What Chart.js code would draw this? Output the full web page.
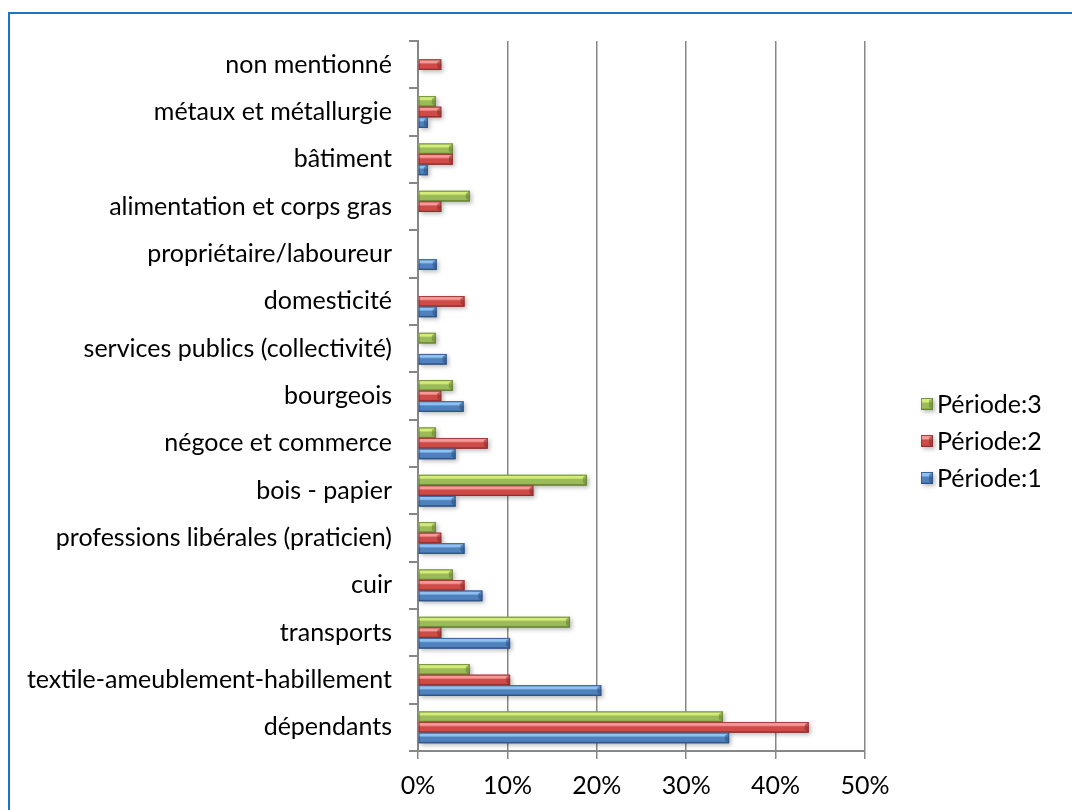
<!DOCTYPE html>
<html>
<head>
<meta charset="utf-8">
<title>Professions par période</title>
<script src="https://cdn.jsdelivr.net/npm/chart.js@4.4.1/dist/chart.umd.min.js"></script>
<style>
  html, body { margin: 0; padding: 0; background: #fff; overflow: hidden; }
  #frame { position: absolute; left: 8px; top: 12px; width: 1120px; height: 860px; border: 2px solid #1a74c9; }
  #wrap { position: absolute; left: 0; top: 0; width: 1072px; height: 810px; }
</style>
</head>
<body>
<div id="frame"></div>
<div id="wrap"><canvas id="chart"></canvas></div>
<script>
// ---- Data (top to bottom, as in the chart) ----
const categories = [
  'non mentionné',
  'métaux et métallurgie',
  'bâtiment',
  'alimentation et corps gras',
  'propriétaire/laboureur',
  'domesticité',
  'services publics (collectivité)',
  'bourgeois',
  'négoce et commerce',
  'bois - papier',
  'professions libérales (praticien)',
  'cuir',
  'transports',
  'textile-ameublement-habillement',
  'dépendants'
];
const periode1 = [0, 1.1, 1.1, 0, 2.1, 2.1, 3.2, 5.1, 4.2, 4.2, 5.2, 7.2, 10.3, 20.5, 34.8];
const periode2 = [2.6, 2.6, 3.9, 2.6, 0, 5.2, 0, 2.6, 7.8, 12.9, 2.6, 5.2, 2.6, 10.3, 43.7];
const periode3 = [0, 2.0, 3.9, 5.8, 0, 0, 2.0, 3.9, 2.0, 18.9, 2.0, 3.9, 17.0, 5.8, 34.1];
const seriesNames = ['Période:3', 'Période:2', 'Période:1'];
const xTicks = [0, 10, 20, 30, 40, 50];

const FONT = 'Lato, "Open Sans", sans-serif';
const FONT_SIZE = 25;
const AXIS_GREY = '#878787';

// light / mid / dark tones for the bevelled bars
const shades = {
  green: { light: '#d4ec78', mid: '#9bbb59', dark: '#637d33' },
  red:   { light: '#f59a98', mid: '#cf4b48', dark: '#8a2e2c' },
  blue:  { light: '#8ec1f2', mid: '#4f81bd', dark: '#2b4f80' }
};

function paintBar(ctx, x, y, w, h, s) {
  ctx.save();
  // soft drop shadow
  ctx.shadowColor = 'rgba(0,0,0,0.28)';
  ctx.shadowBlur = 4;
  ctx.shadowOffsetX = 2;
  ctx.shadowOffsetY = 2;
  const g = ctx.createLinearGradient(0, y, 0, y + h);
  g.addColorStop(0, s.mid);
  g.addColorStop(0.12, s.light);
  g.addColorStop(0.3, s.light);
  g.addColorStop(0.45, s.mid);
  g.addColorStop(0.82, s.mid);
  g.addColorStop(1, s.dark);
  ctx.fillStyle = g;
  ctx.fillRect(x, y, w, h);
  ctx.restore();

  // bevelled right end
  ctx.save();
  const cap = Math.min(4, w / 2);
  ctx.fillStyle = s.dark;
  ctx.globalAlpha = 0.55;
  ctx.beginPath();
  ctx.moveTo(x + w - cap, y + cap * 0.7);
  ctx.lineTo(x + w, y);
  ctx.lineTo(x + w, y + h);
  ctx.lineTo(x + w - cap, y + h - cap * 0.7);
  ctx.closePath();
  ctx.fill();
  ctx.globalAlpha = 0.7;
  ctx.strokeStyle = s.dark;
  ctx.lineWidth = 1;
  ctx.strokeRect(x + 0.5, y + 0.5, w - 1, h - 1);
  ctx.restore();
}

const bevelBars = {
  id: 'bevelBars',
  afterDatasetsDraw(chart) {
    const ctx = chart.ctx;
    chart.data.datasets.forEach((ds, i) => {
      const meta = chart.getDatasetMeta(i);
      meta.data.forEach(bar => {
        const { x, y, base, height } = bar.getProps(['x', 'y', 'base', 'height'], true);
        const w = x - base;
        if (w < 0.5) return;
        paintBar(ctx, base, y - height / 2, w, height, ds.shades);
      });
    });
  }
};

// legend at the right, same order as the bars inside a group
const sideLegend = {
  id: 'sideLegend',
  afterDraw(chart, args, opts) {
    const ctx = chart.ctx;
    ctx.save();
    ctx.font = opts.font;
    ctx.textBaseline = 'middle';
    chart.data.datasets.forEach((ds, i) => {
      const cy = opts.top + i * opts.step;
      paintBar(ctx, opts.left, cy - opts.box / 2, opts.box, opts.box, ds.shades);
      ctx.fillStyle = '#000';
      ctx.fillText(ds.label, opts.left + opts.box + opts.gap, cy + 1);
    });
    ctx.restore();
  }
};

const ctx = document.getElementById('chart').getContext('2d');
new Chart(ctx, {
  type: 'bar',
  data: {
    labels: categories,
    datasets: [
      { label: seriesNames[0], data: periode3, backgroundColor: shades.green.mid, shades: shades.green },
      { label: seriesNames[1], data: periode2, backgroundColor: shades.red.mid, shades: shades.red },
      { label: seriesNames[2], data: periode1, backgroundColor: shades.blue.mid, shades: shades.blue }
    ]
  },
  options: {
    indexAxis: 'y',
    responsive: true,
    maintainAspectRatio: false,
    animation: false,
    categoryPercentage: 0.67,
    barPercentage: 1.0,
    layout: { padding: { top: 41, right: 207, bottom: 0, left: 0 } },
    plugins: {
      legend: { display: false },
      tooltip: { enabled: false },
      sideLegend: { left: 921, top: 404, step: 37, box: 12, gap: 4, font: FONT_SIZE + 'px ' + FONT }
    },
    scales: {
      x: {
        min: 0,
        max: 50,
        afterBuildTicks: (s) => { s.ticks = xTicks.map(v => ({ value: v })); },
        afterFit: (s) => { s.height = 59; },
        ticks: {
          color: '#000',
          font: { family: FONT, size: FONT_SIZE },
          padding: 12,
          callback: (v) => v + '%'
        },
        grid: { color: AXIS_GREY, lineWidth: 1.5, tickLength: 8 },
        border: { color: AXIS_GREY, width: 2 }
      },
      y: {
        afterFit: (s) => { s.width = 418; },
        ticks: {
          color: '#000',
          font: { family: FONT, size: FONT_SIZE },
          padding: 17,
          autoSkip: false
        },
        grid: { drawOnChartArea: false, offset: true, tickLength: 9, color: AXIS_GREY, lineWidth: 2 },
        border: { color: AXIS_GREY, width: 2 }
      }
    }
  },
  plugins: [bevelBars, sideLegend]
});
</script>
</body>
</html>
